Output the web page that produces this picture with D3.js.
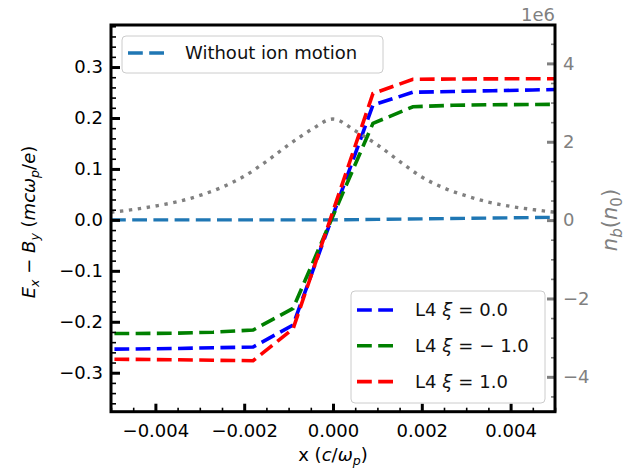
<!DOCTYPE html>
<html>
<head>
<meta charset="utf-8">
<script src="https://cdn.jsdelivr.net/npm/d3@7"></script>
<style>
  html, body { margin: 0; padding: 0; background: #fff; }
  svg { display: block; font-family: "DejaVu Sans", sans-serif; }
</style>
</head>
<body>
<svg id="chart" width="625" height="474"></svg>
<script>
// Field difference E_x - B_y for three L4 runs, a reference run without ion motion,
// and the beam density profile n_b on a twin axis.
const xL4 = [-0.0054, -0.0045, -0.0036, -0.0027, -0.0018, -0.0009, 0.0009, 0.0018, 0.0027, 0.0036, 0.0045, 0.0054];
const fieldXi0 = [-0.2540, -0.2535, -0.2525, -0.2510, -0.2495, -0.2064, 0.2254, 0.2505, 0.2520, 0.2535, 0.2550, 0.2565];
const fieldXiM1 = [-0.2230, -0.2230, -0.2225, -0.2205, -0.2162, -0.1737, 0.1895, 0.2220, 0.2250, 0.2260, 0.2265, 0.2270];
const fieldXiP1 = [-0.2735, -0.2738, -0.2745, -0.2755, -0.2764, -0.2140, 0.2480, 0.2760, 0.2765, 0.2768, 0.2770, 0.2772];

const xNoIon = [-0.005, -0.004, -0.003, -0.002, -0.001, 0, 0.001, 0.002, 0.003, 0.004, 0.005];
const fieldNoIon = [0, 0, 0, 0, 0, 0, 0.001, 0.002, 0.003, 0.004, 0.005];

const xBeam = [-0.005, -0.0045, -0.004, -0.0035, -0.003, -0.0025, -0.002, -0.0015, -0.001, -0.0005, 0,
               0.0005, 0.001, 0.0015, 0.002, 0.0025, 0.003, 0.0035, 0.004, 0.0045, 0.005];
const beamDensity1e6 = [0.20, 0.27, 0.36, 0.47, 0.63, 0.84, 1.12, 1.50, 1.92, 2.30, 2.58,
                        2.28, 1.92, 1.50, 1.10, 0.82, 0.62, 0.46, 0.35, 0.27, 0.20];

const xTicks = [-0.004, -0.002, 0.000, 0.002, 0.004];
const yTicks = [-0.3, -0.2, -0.1, 0.0, 0.1, 0.2, 0.3];
const y2Ticks = [-4, -2, 0, 2, 4];

const seriesL4 = [
  { label: "0.0", values: fieldXi0, color: "#0000ff" },
  { label: "\u2212 1.0", values: fieldXiM1, color: "#008000" },
  { label: "1.0", values: fieldXiP1, color: "#ff0000" }
];

const svg = d3.select("#chart");
const plot = { left: 111, right: 555, top: 25, bottom: 411.7 };
const FS = 18;
const GREY = "#808080";

const x = d3.scaleLinear().domain([-0.005, 0.005]).range([plot.left, plot.right]);
const y = d3.scaleLinear().domain([-0.3765, 0.3825]).range([plot.bottom, plot.top]);
const y2 = d3.scaleLinear().domain([-4.89, 4.98]).range([plot.bottom, plot.top]);

svg.append("defs").append("clipPath").attr("id", "plotClip")
  .append("rect")
  .attr("x", plot.left).attr("y", plot.top)
  .attr("width", plot.right - plot.left).attr("height", plot.bottom - plot.top);

const layer = svg.append("g").attr("clip-path", "url(#plotClip)");

const DASH = "14.8,6.4";

// no-ion reference
layer.append("path")
  .datum(xNoIon.map((v, i) => [v, fieldNoIon[i]]))
  .attr("fill", "none").attr("stroke", "#1f77b4").attr("stroke-width", 3.4)
  .attr("stroke-dasharray", DASH)
  .attr("d", d3.line().x(d => x(d[0])).y(d => y(d[1])));

// L4 runs
seriesL4.forEach(s => {
  layer.append("path")
    .datum(xL4.map((v, i) => [v, s.values[i]]))
    .attr("fill", "none").attr("stroke", s.color).attr("stroke-width", 3.6)
    .attr("stroke-dasharray", DASH)
    .attr("d", d3.line().x(d => x(d[0])).y(d => y(d[1])));
});

// beam density on twin axis
layer.append("path")
  .datum(xBeam.map((v, i) => [v, beamDensity1e6[i]]))
  .attr("fill", "none").attr("stroke", GREY).attr("stroke-width", 3.4)
  .attr("stroke-dasharray", "3.4,5.6")
  .attr("d", d3.line().curve(d3.curveMonotoneX).x(d => x(d[0])).y(d => y2(d[1])));

// axes helpers
function styleAxis(g, color, fontSize) {
  g.select(".domain").remove();
  g.selectAll("line").attr("stroke", color);
  g.selectAll("text").attr("fill", color).attr("font-size", fontSize)
    .attr("font-family", "DejaVu Sans, sans-serif");
}
function minorValues(domain, step, majors) {
  const out = [];
  const start = Math.ceil(domain[0] / step - 1e-9);
  const end = Math.floor(domain[1] / step + 1e-9);
  for (let k = start; k <= end; k++) {
    const v = k * step;
    if (!majors.some(m => Math.abs(m - v) < step * 1e-3)) out.push(v);
  }
  return out;
}

// x axis (bottom, inward ticks)
const xMinor = minorValues(x.domain(), 0.0005, xTicks);
svg.append("g").attr("transform", `translate(0,${plot.bottom})`)
  .call(d3.axisBottom(x).tickValues(xMinor).tickSize(-4).tickFormat(""))
  .call(g => styleAxis(g, "#000", FS))
  .call(g => g.selectAll("line").attr("stroke-width", 1.6));
svg.append("g").attr("transform", `translate(0,${plot.bottom})`)
  .call(d3.axisBottom(x).tickValues(xTicks).tickSize(-8).tickPadding(13).tickFormat(d3.format(".3f")))
  .call(g => styleAxis(g, "#000", FS))
  .call(g => g.selectAll("line").attr("stroke-width", 3));

// left y axis
const yMinor = minorValues(y.domain(), 0.02, yTicks);
svg.append("g").attr("transform", `translate(${plot.left},0)`)
  .call(d3.axisLeft(y).tickValues(yMinor).tickSize(-5).tickFormat(""))
  .call(g => styleAxis(g, "#000", FS))
  .call(g => g.selectAll("line").attr("stroke-width", 1.6));
svg.append("g").attr("transform", `translate(${plot.left},0)`)
  .call(d3.axisLeft(y).tickValues(yTicks).tickSize(-9).tickPadding(8).tickFormat(d3.format(".1f")))
  .call(g => styleAxis(g, "#000", FS))
  .call(g => g.selectAll("line").attr("stroke-width", 3));

// right y axis (grey)
const y2Minor = minorValues(y2.domain(), 0.5, y2Ticks);
svg.append("g").attr("transform", `translate(${plot.right},0)`)
  .call(d3.axisRight(y2).tickValues(y2Minor).tickSize(-4).tickFormat(""))
  .call(g => styleAxis(g, GREY, FS))
  .call(g => g.selectAll("line").attr("stroke-width", 1.6));
svg.append("g").attr("transform", `translate(${plot.right},0)`)
  .call(d3.axisRight(y2).tickValues(y2Ticks).tickSize(-8).tickPadding(8).tickFormat(d3.format("d")))
  .call(g => styleAxis(g, GREY, FS))
  .call(g => g.selectAll("line").attr("stroke-width", 3));

// frame
svg.append("rect")
  .attr("x", plot.left).attr("y", plot.top)
  .attr("width", plot.right - plot.left).attr("height", plot.bottom - plot.top)
  .attr("fill", "none").attr("stroke", "#000").attr("stroke-width", 3);

// offset text of twin axis
svg.append("text").attr("x", plot.right).attr("y", 21)
  .attr("text-anchor", "end").attr("font-size", FS).attr("fill", GREY).text("1e6");

// rich-text helper: parts with optional italic / subscript
function rich(textSel, parts, size, subScale) {
  const sc = subScale || 0.7;
  let shifted = 0;
  parts.forEach(p => {
    const t = textSel.append("tspan").text(p.t);
    if (p.it) t.attr("font-style", "italic");
    let dy = 0;
    if (p.sub && !shifted) { dy = size * 0.22; shifted = 1; }
    else if (!p.sub && shifted) { dy = -size * 0.22; shifted = 0; }
    if (dy) t.attr("dy", dy);
    if (p.sub) t.attr("font-size", size * sc);
    if (p.dx) t.attr("dx", p.dx);
  });
}

// axis titles
const xt = svg.append("text").attr("x", 333).attr("y", 461)
  .attr("text-anchor", "middle").attr("font-size", FS).attr("fill", "#000");
rich(xt, [{ t: "x (" }, { t: "c", it: true }, { t: "/" }, { t: "\u03c9", it: true },
          { t: "p", it: true, sub: true }, { t: ")" }], FS);

const yt = svg.append("text").attr("transform", "translate(35,222) rotate(-90)")
  .attr("text-anchor", "middle").attr("font-size", FS).attr("fill", "#000");
rich(yt, [{ t: "E", it: true }, { t: "x", it: true, sub: true }, { t: " \u2212 " },
          { t: "B", it: true }, { t: "y", it: true, sub: true }, { t: " (" },
          { t: "mc\u03c9", it: true }, { t: "p", it: true, sub: true }, { t: "/" },
          { t: "e", it: true }, { t: ")" }], FS);

const y2t = svg.append("text").attr("transform", "translate(617,220) rotate(-90)")
  .attr("text-anchor", "middle").attr("font-size", 21).attr("fill", GREY);
rich(y2t, [{ t: "n", it: true }, { t: "b", it: true, sub: true }, { t: "(" },
           { t: "n", it: true }, { t: "0", sub: true }, { t: ")" }], 21, 0.72);

// legends
function legendBox(x0, y0, w, h) {
  svg.append("rect").attr("x", x0).attr("y", y0).attr("width", w).attr("height", h)
    .attr("rx", 4).attr("ry", 4)
    .attr("fill", "#fff").attr("fill-opacity", 0.8)
    .attr("stroke", "#cccccc").attr("stroke-width", 1);
}

legendBox(122, 36, 261, 37);
svg.append("line").attr("x1", 128).attr("x2", 165).attr("y1", 53).attr("y2", 53)
  .attr("stroke", "#1f77b4").attr("stroke-width", 3.4).attr("stroke-dasharray", DASH);
svg.append("text").attr("x", 185).attr("y", 53).attr("dy", "0.35em")
  .attr("font-size", FS).attr("fill", "#111").text("Without ion motion");

legendBox(351, 291, 194, 112);
seriesL4.forEach((s, i) => {
  const yy = 310 + i * 35.8;
  svg.append("line").attr("x1", 357).attr("x2", 395).attr("y1", yy).attr("y2", yy)
    .attr("stroke", s.color).attr("stroke-width", 3.6).attr("stroke-dasharray", DASH);
  const t = svg.append("text").attr("x", 415).attr("y", yy).attr("dy", "0.35em")
    .attr("font-size", FS).attr("fill", "#111");
  rich(t, [{ t: "L4 " }, { t: "\u03be", it: true }, { t: "=", dx: 6 }, { t: s.label, dx: 6 }], FS);
});
</script>
</body>
</html>
